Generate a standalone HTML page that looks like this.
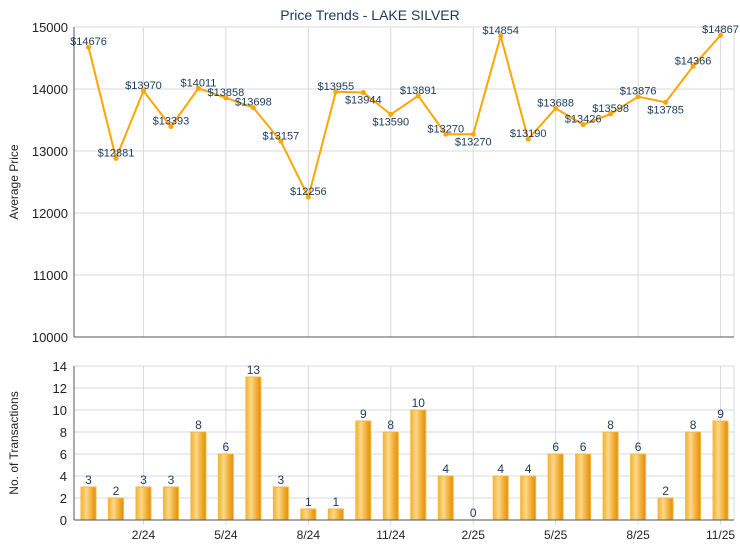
<!DOCTYPE html>
<html><head><meta charset="utf-8"><style>
body{margin:0;background:#fff;}
svg{display:block;font-family:"Liberation Sans",Arial,sans-serif;}
</style></head><body>
<svg width="740" height="550" viewBox="0 0 740 550" xmlns="http://www.w3.org/2000/svg">
<defs>
<linearGradient id="bg" x1="0" x2="1" y1="0" y2="0">
<stop offset="0" stop-color="#f3b233"/><stop offset="0.35" stop-color="#fcd88a"/><stop offset="0.75" stop-color="#f0a82a"/><stop offset="1" stop-color="#e08f10"/>
</linearGradient>
</defs>
<rect width="740" height="550" fill="#fff"/>
<text x="370" y="20" text-anchor="middle" font-size="14" fill="#1f3a60">Price Trends - LAKE SILVER</text>
<g id="gtop"></g>
<g id="gbot"></g>
</svg>
<script>
(function(){
const ns="http://www.w3.org/2000/svg";
function el(p,t,a,txt){const e=document.createElementNS(ns,t);for(const k in a)e.setAttribute(k,a[k]);if(txt!==undefined)e.textContent=txt;p.appendChild(e);return e;}
const gt=document.getElementById('gtop'),gb=document.getElementById('gbot');
const prices=[14676,12881,13970,13393,14011,13858,13698,13157,12256,13955,13944,13590,13891,13270,13270,14854,13190,13688,13426,13598,13876,13785,14366,14867];
const cnt=[3,2,3,3,8,6,13,3,1,1,9,8,10,4,0,4,4,6,6,8,6,2,8,9];
const X0=74,X1=734,xs=i=>88.5+i*27.48;
const ticks=[["2/24",2],["5/24",5],["8/24",8],["11/24",11],["2/25",14],["5/25",17],["8/25",20],["11/25",23]];
const py=v=>337-(v-10000)*0.062;
for(let v=10000;v<=15000;v+=1000){const y=py(v);el(gt,'line',{x1:X0,x2:X1,y1:y,y2:y,stroke:'#d8d8d8'});el(gt,'text',{x:X0-6,y:y+5,'text-anchor':'end','font-size':13,fill:'#222'},v);}
ticks.forEach(t=>el(gt,'line',{x1:xs(t[1]),x2:xs(t[1]),y1:27,y2:337,stroke:'#d8d8d8'}));
el(gt,'line',{x1:X1,x2:X1,y1:27,y2:337,stroke:'#d8d8d8'});
el(gt,'line',{x1:X0,x2:X0,y1:27,y2:337,stroke:'#555'});
el(gt,'line',{x1:X0,x2:X1,y1:337,y2:337,stroke:'#555'});
el(gt,'text',{x:18,y:182,'text-anchor':'middle','font-size':12,fill:'#222',transform:'rotate(-90 18 182)'},'Average Price');
el(gt,'polyline',{points:prices.map((v,i)=>xs(i)+','+py(v)).join(' '),fill:'none',stroke:'#ffa500','stroke-width':2});
const below=[10,11,14,21];
prices.forEach((v,i)=>{el(gt,'circle',{cx:xs(i),cy:py(v),r:2.5,fill:'#ffa500'});
 const b=below.includes(i);el(gt,'text',{x:xs(i),y:b?py(v)+11:py(v)-2,'text-anchor':'middle','font-size':11,fill:'#1a3a5c'},'$'+v);});
const by=v=>520-v*11;
for(let v=0;v<=14;v+=2){const y=by(v);el(gb,'line',{x1:X0,x2:X1,y1:y,y2:y,stroke:'#d8d8d8'});el(gb,'text',{x:X0-7,y:y+5,'text-anchor':'end','font-size':13,fill:'#222'},v);}
ticks.forEach(t=>{el(gb,'line',{x1:xs(t[1]),x2:xs(t[1]),y1:366,y2:525,stroke:'#d8d8d8'});el(gb,'text',{x:xs(t[1]),y:539,'text-anchor':'middle','font-size':12,fill:'#222'},t[0]);});
el(gb,'line',{x1:X1,x2:X1,y1:366,y2:520,stroke:'#d8d8d8'});
cnt.forEach((c,i)=>{const x=xs(i);if(c>0)el(gb,'rect',{x:x-7.5,y:by(c),width:15,height:c*11,fill:'url(#bg)',stroke:'#f5b63c','stroke-width':1});
 el(gb,'text',{x:x,y:by(c)-3,'text-anchor':'middle','font-size':12,fill:'#1a3a5c'},c);});
el(gb,'line',{x1:X0,x2:X0,y1:366,y2:520,stroke:'#555'});
el(gb,'line',{x1:X0,x2:X1,y1:520,y2:520,stroke:'#555'});
el(gb,'text',{x:18,y:443,'text-anchor':'middle','font-size':12,fill:'#222',transform:'rotate(-90 18 443)'},'No. of Transactions');
})();
</script>
</body></html>
